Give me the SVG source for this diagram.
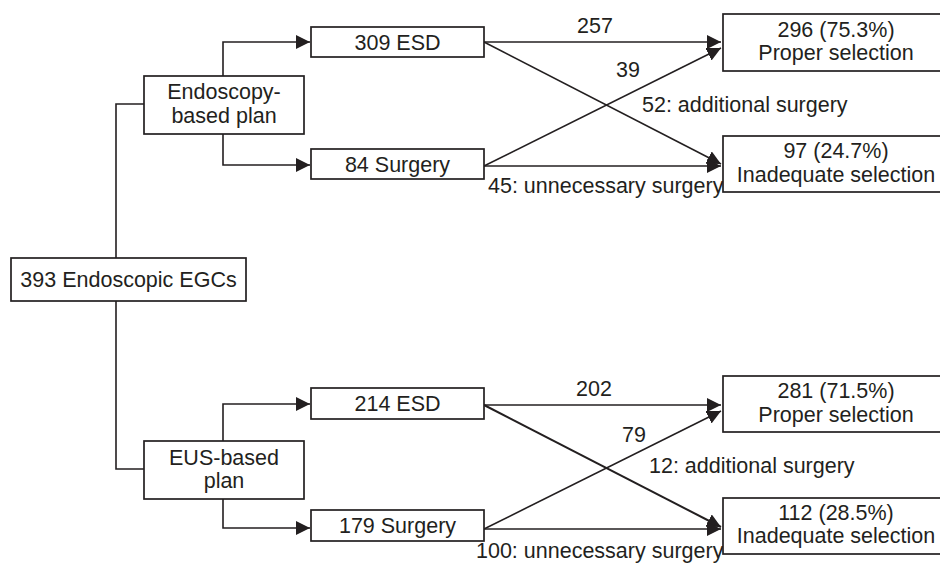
<svg xmlns="http://www.w3.org/2000/svg" width="940" height="564" viewBox="0 0 940 564">
<defs>
<style>
.box{fill:#fff;stroke:#231f20;stroke-width:1.7}
.ln{fill:none;stroke:#231f20;stroke-width:1.6}
text{font-family:"Liberation Sans",Arial,sans-serif;font-size:21.5px;fill:#231f20}
.c{text-anchor:middle}
</style>
<marker id="ah" markerUnits="userSpaceOnUse" markerWidth="15" markerHeight="15" refX="14" refY="7" orient="auto">
<path d="M0,0 L14,7 L0,14 z" fill="#231f20"/>
</marker>
</defs>
<rect width="940" height="564" fill="#fff"/>
<g id="connectors">
<path class="ln" d="M116,258 V104 H144"/>
<path class="ln" d="M116,301 V469 H144"/>
<path class="ln" d="M223,76 V42 H310" marker-end="url(#ah)"/>
<path class="ln" d="M223,134 V165 H310" marker-end="url(#ah)"/>
<path class="ln" d="M223,441 V404 H310" marker-end="url(#ah)"/>
<path class="ln" d="M223,499 V528 H310" marker-end="url(#ah)"/>
<path class="ln" d="M484,42 H721" marker-end="url(#ah)"/>
<path class="ln" d="M484,42 L721,164" marker-end="url(#ah)"/>
<path class="ln" d="M484,166 L721,48" marker-end="url(#ah)"/>
<path class="ln" d="M484,166 H721" marker-end="url(#ah)"/>
<path class="ln" d="M484,405 H721" marker-end="url(#ah)"/>
<path class="ln" d="M484,405 L721,527" marker-end="url(#ah)" style="stroke-width:2"/>
<path class="ln" d="M484,529 L721,411" marker-end="url(#ah)"/>
<path class="ln" d="M484,529 H721" marker-end="url(#ah)"/>
<text x="595" y="33" class="c">257</text>
<text x="628" y="77" class="c">39</text>
<text x="642" y="112">52: additional surgery</text>
<text x="488" y="193">45: unnecessary surgery</text>
<text x="594" y="396" class="c">202</text>
<text x="634" y="442" class="c">79</text>
<text x="649" y="473">12: additional surgery</text>
<text x="476" y="558">100: unnecessary surgery</text>
</g>
<g id="root">
<rect class="box" x="11" y="258" width="235" height="43"/>
<text x="128.5" y="287" class="c">393 Endoscopic EGCs</text>
</g>
<g id="endo-plan">
<rect class="box" x="144" y="76" width="160" height="58"/>
<text x="224" y="99" class="c">Endoscopy-</text>
<text x="224" y="123" class="c">based plan</text>
</g>
<g id="eus-plan">
<rect class="box" x="144" y="441" width="160" height="58"/>
<text x="224" y="465" class="c">EUS-based</text>
<text x="224" y="488" class="c">plan</text>
</g>
<g id="esd1">
<rect class="box" x="311" y="27" width="173" height="30"/>
<text x="397.5" y="50" class="c">309 ESD</text>
</g>
<g id="surg1">
<rect class="box" x="311" y="149" width="173" height="30"/>
<text x="397.5" y="172" class="c">84 Surgery</text>
</g>
<g id="esd2">
<rect class="box" x="311" y="388" width="173" height="31"/>
<text x="397.5" y="411" class="c">214 ESD</text>
</g>
<g id="surg2">
<rect class="box" x="311" y="510" width="173" height="31"/>
<text x="397.5" y="533" class="c">179 Surgery</text>
</g>
<g id="proper1">
<rect class="box" x="723" y="14" width="225" height="57"/>
<text x="836" y="37" class="c">296 (75.3%)</text>
<text x="836" y="60" class="c">Proper selection</text>
</g>
<g id="inadequate1">
<rect class="box" x="723" y="136" width="225" height="56"/>
<text x="836" y="158" class="c">97 (24.7%)</text>
<text x="836" y="182" class="c">Inadequate selection</text>
</g>
<g id="proper2">
<rect class="box" x="723" y="376" width="225" height="56"/>
<text x="836" y="398" class="c">281 (71.5%)</text>
<text x="836" y="422" class="c">Proper selection</text>
</g>
<g id="inadequate2">
<rect class="box" x="723" y="498" width="225" height="56"/>
<text x="836" y="520" class="c">112 (28.5%)</text>
<text x="836" y="543" class="c">Inadequate selection</text>
</g>
</svg>
